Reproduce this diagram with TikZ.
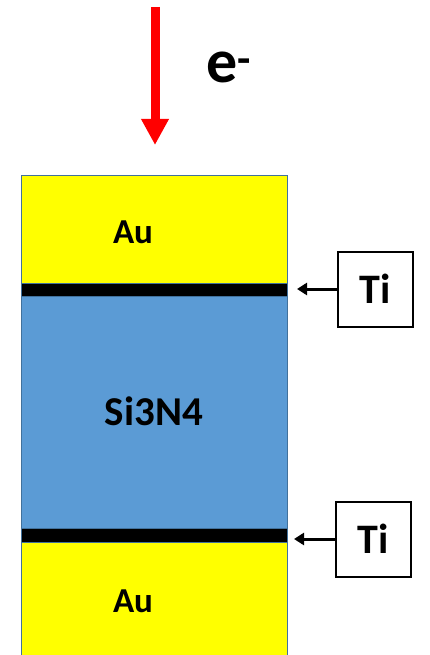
\documentclass[tikz,border=0pt]{standalone}
\usepackage{fontspec}
\setmainfont{Carlito}
\usetikzlibrary{positioning,arrows.meta}

\definecolor{gold}{HTML}{FFFF00}
\definecolor{nitride}{HTML}{5B9BD5}
\definecolor{edge}{HTML}{41719C}
\definecolor{beam}{HTML}{FF0000}

\begin{document}
\begin{tikzpicture}[
x=1pt,y=-1pt,
layer/.style={
draw=edge,
line width=1pt,
minimum width=266pt,
inner sep=0pt,
anchor=north west
},
lbl/.style={
inner sep=0pt,
anchor=base,
font=\bfseries\fontsize{35}{40}\selectfont
},
tibox/.style={
draw,
line width=2pt,
minimum size=75pt,
inner sep=0pt,
font=\bfseries\fontsize{42}{48}\selectfont
},
tiarrow/.style={
-{Triangle[length=10pt,width=12pt]},
line width=3pt
}
]

\useasboundingbox (0,0) rectangle (429,655);

% layer stack
\node[layer,fill=gold,minimum height=108pt] (auup) at (21,175) {};
\node[layer,fill=black,minimum height=13pt] (tiup) at (21,283) {};
\node[layer,fill=nitride,minimum height=232pt] (sin) at (21,296) {};
\node[layer,fill=black,minimum height=14pt] (tidown) at (21,528) {};
\node[layer,fill=gold,minimum height=125pt] (audown) at (21,542) {};

\node[lbl] (auuptext) at (133,243) {Au};
\node[lbl,font=\bfseries\fontsize{41}{46}\selectfont] (sintext) at (154,425) {Si3N4};
\node[lbl] (audowntext) at (133,612) {Au};

% Ti callouts
\node[tibox] (tiboxup) at (375,289) {Ti};
\node[tibox] (tiboxdown) at (373,539) {Ti};

\draw[tiarrow] (tiboxup.west) -- ([xshift=9pt]tiboxup.west -| tiup.east);
\draw[tiarrow] (tiboxdown.west) -- ([xshift=6pt]tiboxdown.west -| tidown.east);

% electron beam
\coordinate (beamstart) at (155,7);
\draw[-{Triangle[length=26pt,width=26pt]},beam,line width=9pt]
(beamstart) -- ([yshift=30pt]beamstart |- auup.north);
\node[inner sep=0pt,anchor=base west,font=\bfseries\fontsize{62}{70}\selectfont]
(elec) at (206,83) {e\textsuperscript{-}};

\end{tikzpicture}
\end{document}
